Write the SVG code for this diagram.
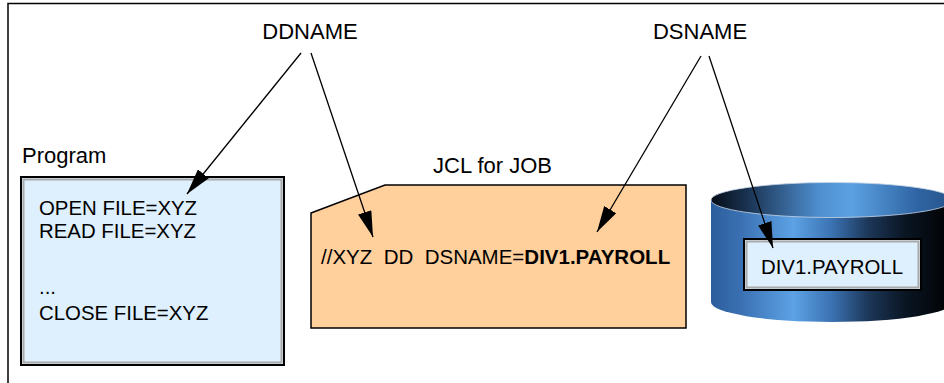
<svg xmlns="http://www.w3.org/2000/svg" width="944" height="383" viewBox="0 0 944 383">
<style>
text{font-family:"Liberation Sans",Arial,sans-serif;fill:#000}
.lbl{font-size:22px}
.body{font-size:20.4px}
.conn{stroke:#000;stroke-width:1.3;fill:none;marker-end:url(#ah)}
</style>
<defs>
<marker id="ah" viewBox="0 0 26 14" markerWidth="26" markerHeight="14" refX="26" refY="7" markerUnits="userSpaceOnUse" orient="auto">
<path d="M0,0 L26,7 L0,14 Z" fill="#000"/>
</marker>
<linearGradient id="cylBody" gradientUnits="userSpaceOnUse" x1="711" y1="0" x2="953" y2="0">
<stop offset="0" stop-color="#2b5d9c"/>
<stop offset="0.12" stop-color="#3a70b2"/>
<stop offset="0.34" stop-color="#5ca2e5"/>
<stop offset="0.5" stop-color="#3b72b2"/>
<stop offset="0.65" stop-color="#1c3759"/>
<stop offset="0.8" stop-color="#0a1624"/>
<stop offset="1" stop-color="#000"/>
</linearGradient>
<linearGradient id="cylTop" gradientUnits="userSpaceOnUse" x1="711" y1="0" x2="953" y2="0">
<stop offset="0" stop-color="#040c16"/>
<stop offset="0.15" stop-color="#1a3352"/>
<stop offset="0.45" stop-color="#4f8fd0"/>
<stop offset="0.58" stop-color="#5ca1e2"/>
<stop offset="0.85" stop-color="#2f65a4"/>
<stop offset="1" stop-color="#27548a"/>
</linearGradient>
</defs>
<rect x="0" y="0" width="944" height="383" fill="#fff"/>
<path d="M8,383 L8,3.5 L944,3.5" fill="none" stroke="#000" stroke-width="1.5"/>

<g id="label-ddname"><text class="lbl" x="310" y="39" text-anchor="middle">DDNAME</text></g>
<g id="label-dsname"><text class="lbl" x="700" y="39" text-anchor="middle">DSNAME</text></g>

<g id="program">
<text class="lbl" x="22" y="163">Program</text>
<rect x="21" y="177" width="263" height="188" fill="#deeffd" stroke="#000" stroke-width="2"/>
<rect x="23.5" y="179.5" width="258" height="183" fill="none" stroke="#a9a9a9" stroke-width="2"/>
<text class="body" x="39" y="215">OPEN FILE=XYZ</text>
<text class="body" x="39" y="238">READ FILE=XYZ</text>
<text class="body" x="39" y="294">...</text>
<text class="body" x="39" y="320">CLOSE FILE=XYZ</text>
</g>

<g id="jcl">
<text class="lbl" x="433" y="173">JCL for JOB</text>
<polygon points="311,213 385,185 686,185 686,328 311,328" fill="#ffcf9c" stroke="#000" stroke-width="1.5"/>
<text x="321" y="264" font-size="20.5" xml:space="preserve">//XYZ  DD  DSNAME=<tspan font-weight="bold">DIV1.PAYROLL</tspan></text>
</g>

<g id="dataset">
<path d="M711,200 L711,302 A121,20 0 0 0 953,302 L953,200 Z" fill="url(#cylBody)"/>
<ellipse cx="832" cy="200" rx="121" ry="17.5" fill="url(#cylTop)" stroke="#c8d4e6" stroke-width="0.8"/>
<rect x="744" y="239" width="177" height="51" fill="#deeffd" stroke="#000" stroke-width="2"/>
<rect x="746.5" y="241.5" width="172" height="46" fill="none" stroke="#a9a9a9" stroke-width="2"/>
<text class="body" x="832" y="274" text-anchor="middle">DIV1.PAYROLL</text>
</g>

<g id="connectors">
<line class="conn" x1="301" y1="53" x2="187" y2="194"/>
<line class="conn" x1="311" y1="53" x2="373" y2="237"/>
<line class="conn" x1="701" y1="56" x2="597" y2="232"/>
<line class="conn" x1="709" y1="56" x2="773" y2="248"/>
</g>
</svg>
